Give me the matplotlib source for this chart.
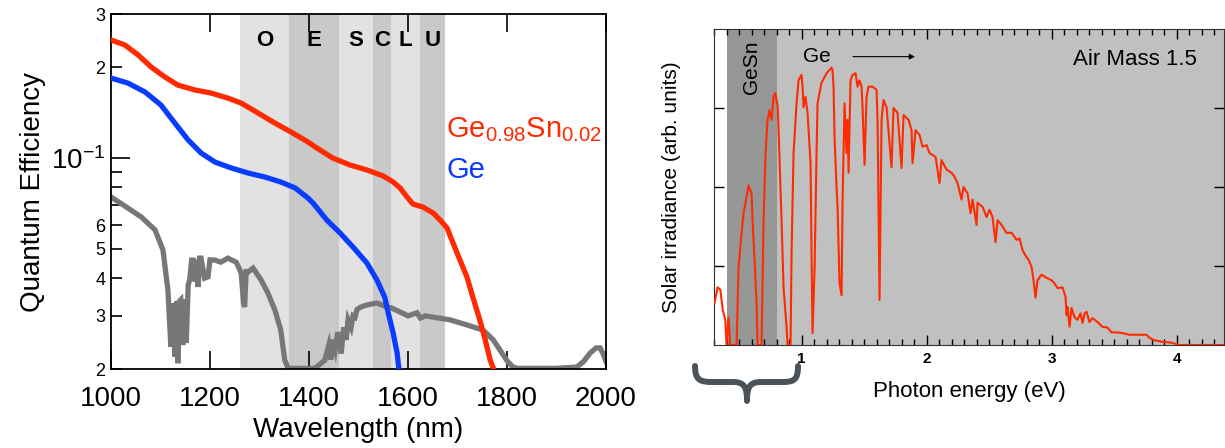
import matplotlib
matplotlib.use("Agg")
import matplotlib.pyplot as plt
from matplotlib.path import Path
from matplotlib.patches import PathPatch

plt.rcParams['font.family'] = ['Liberation Sans', 'DejaVu Sans']

# ---- left panel: quantum efficiency vs wavelength ----
bands = ['O', 'E', 'S', 'C', 'L', 'U']
band_edges = [1260, 1360, 1460, 1530, 1565, 1625, 1675]
band_colors = ['#e2e2e2', '#c9c9c9', '#e2e2e2', '#c9c9c9', '#e2e2e2', '#c9c9c9']

gesn_wl = [1000, 1028, 1055, 1081, 1109, 1135, 1170, 1202, 1236, 1263, 1297, 1331, 1364,
           1398, 1416, 1448, 1483, 1517, 1550, 1570, 1584, 1598, 1610, 1630, 1651, 1665,
           1679, 1691, 1705, 1719, 1731, 1745, 1756, 1766, 1774]
gesn_qe = [0.2461, 0.2369, 0.2194, 0.2003, 0.1855, 0.1745, 0.1680, 0.1642, 0.1580, 0.1521,
           0.1410, 0.1306, 0.1219, 0.1130, 0.1079, 0.1000, 0.0948, 0.0913, 0.0872, 0.0833,
           0.0796, 0.0743, 0.0704, 0.0688, 0.0657, 0.0623, 0.0586, 0.0523, 0.0459, 0.0404,
           0.0346, 0.0291, 0.0250, 0.0214, 0.0198]

ge_wl = [1000, 1034, 1069, 1101, 1129, 1156, 1182, 1210, 1243, 1277, 1311, 1343, 1372,
         1398, 1408, 1436, 1463, 1489, 1517, 1537, 1553, 1560, 1570, 1578, 1582]
ge_qe = [0.1841, 0.1772, 0.1654, 0.1498, 0.1306, 0.1147, 0.1039, 0.0970, 0.0927, 0.0892,
         0.0865, 0.0833, 0.0796, 0.0737, 0.0710, 0.0623, 0.0564, 0.0507, 0.0449, 0.0395,
         0.0346, 0.0307, 0.0263, 0.0226, 0.0198]

atm_wl = [1000, 1034, 1061, 1089, 1105, 1115, 1121, 1125, 1129, 1133, 1135, 1138, 1141,
          1145, 1149, 1152, 1156, 1159, 1163, 1166, 1170, 1173, 1176, 1179, 1182, 1189,
          1196, 1200, 1210, 1222, 1236, 1253, 1263, 1268, 1270, 1273, 1277, 1287, 1303,
          1317, 1331, 1343, 1351, 1358, 1412, 1432, 1440, 1444, 1448, 1453, 1458, 1465,
          1470, 1475, 1479, 1485, 1489, 1493, 1497, 1505, 1517, 1537, 1557, 1566, 1584,
          1600, 1618, 1625, 1635, 1651, 1685, 1719, 1752, 1772, 1786, 1800, 1812, 1822,
          1900, 1941, 1955, 1968, 1980, 1988, 1994, 2000]
atm_t = [0.0743, 0.0683, 0.0638, 0.0578, 0.0496, 0.0365, 0.0237, 0.0330, 0.0220, 0.0335,
         0.0209, 0.0335, 0.0339, 0.0240, 0.0340, 0.0244, 0.0380, 0.0395, 0.0459, 0.0459,
         0.0390, 0.0460, 0.0374, 0.0466, 0.0466, 0.0400, 0.0404, 0.0460, 0.0459, 0.0452,
         0.0466, 0.0452, 0.0416, 0.0330, 0.0321, 0.0420, 0.0419, 0.0432, 0.0395, 0.0357,
         0.0314, 0.0269, 0.0214, 0.0201, 0.0201, 0.0214, 0.0240, 0.0215, 0.0250, 0.0232,
         0.0265, 0.0225, 0.0275, 0.0250, 0.0291, 0.0275, 0.0300, 0.0297, 0.0315, 0.0321,
         0.0326, 0.0331, 0.0321, 0.0319, 0.0309, 0.0300, 0.0307, 0.0295, 0.0300, 0.0297,
         0.0291, 0.0280, 0.0269, 0.0250, 0.0231, 0.0213, 0.0203, 0.0201, 0.0201, 0.0203,
         0.0212, 0.0226, 0.0235, 0.0235, 0.0225, 0.0212]

qe_minor_ticks = [0.02, 0.03, 0.04, 0.05, 0.06, 0.07, 0.08, 0.09, 0.2, 0.3]
qe_minor_labels = ['2', '3', '4', '5', '6', '', '', '', '2', '3']

# ---- right panel: AM1.5 solar spectrum vs photon energy ----
am_ev = [0.304, 0.328, 0.35, 0.37, 0.39, 0.40, 0.416, 0.43, 0.48, 0.496, 0.52, 0.536, 0.56,
         0.576, 0.60, 0.608, 0.624, 0.64, 0.648, 0.68, 0.696, 0.712, 0.728, 0.744, 0.76,
         0.776, 0.79, 0.81, 0.824, 0.84, 0.856, 0.88, 0.888, 0.912, 0.92, 0.936, 0.96,
         0.976, 1.0, 1.008, 1.016, 1.032, 1.048, 1.072, 1.08, 1.088, 1.104, 1.12, 1.128,
         1.16, 1.20, 1.24, 1.248, 1.256, 1.264, 1.28, 1.288, 1.304, 1.32, 1.328, 1.344,
         1.36, 1.368, 1.376, 1.392, 1.408, 1.432, 1.448, 1.464, 1.48, 1.488, 1.504, 1.52,
         1.536, 1.568, 1.60, 1.608, 1.624, 1.64, 1.656, 1.68, 1.704, 1.72, 1.736, 1.768,
         1.80, 1.816, 1.856, 1.88, 1.888, 1.912, 1.944, 1.968, 2.0, 2.024, 2.072, 2.104,
         2.12, 2.16, 2.2, 2.224, 2.248, 2.28, 2.296, 2.328, 2.352, 2.368, 2.40, 2.408,
         2.448, 2.48, 2.504, 2.528, 2.552, 2.568, 2.60, 2.64, 2.68, 2.72, 2.744, 2.768,
         2.80, 2.816, 2.84, 2.856, 2.872, 2.888, 2.92, 2.96, 3.0, 3.024, 3.048, 3.088,
         3.112, 3.12, 3.128, 3.144, 3.16, 3.184, 3.208, 3.232, 3.248, 3.264, 3.28, 3.304,
         3.328, 3.368, 3.408, 3.448, 3.48, 3.52, 3.568, 3.624, 3.688, 3.76, 3.784, 3.824,
         3.888, 3.96, 4.024, 4.38]
am_irr = [0.53, 0.73, 0.70, 0.44, 0.32, 0.0, 0.35, 0.0, 0.0, 0.99, 1.41, 1.67, 1.87,
          2.02, 1.92, 1.58, 1.08, 0.53, 0.0, 0.0, 1.58, 2.43, 2.85, 2.97, 2.85,
          3.14, 3.19, 3.01, 2.34, 1.58, 0.73, 0.23, 0.0, 0.0, 1.16, 2.43, 3.06,
          3.35, 3.42, 3.27, 3.01, 3.14, 2.94, 2.30, 1.16, 0.15, 0.95, 2.43, 3.06,
          3.32, 3.44, 3.51, 3.48, 3.27, 2.63, 2.0, 1.75, 0.78, 0.63, 1.8, 3.06,
          2.43, 2.85, 2.18, 3.35, 3.42, 3.44, 3.27, 3.35, 3.27, 3.01, 2.28, 3.14,
          3.27, 3.27, 3.23, 2.85, 0.57, 2.85, 3.1, 3.01, 2.56, 2.25, 3.0, 2.94,
          2.24, 2.91, 2.85, 2.72, 2.3, 2.72, 2.66, 2.51, 2.53, 2.43, 2.38, 2.05,
          2.34, 2.22, 2.18, 2.13, 2.05, 1.84, 2.0, 1.92, 1.67, 1.84, 1.52, 1.8,
          1.75, 1.62, 1.71, 1.62, 1.3, 1.58, 1.52, 1.42, 1.42, 1.33, 1.35, 1.2,
          1.11, 1.08, 0.99, 0.82, 0.6, 0.82, 0.89, 0.85, 0.82, 0.78, 0.72, 0.73,
          0.61, 0.38, 0.48, 0.23, 0.47, 0.35, 0.32, 0.40, 0.28, 0.40, 0.42, 0.29,
          0.34, 0.29, 0.23, 0.22, 0.16, 0.16, 0.15, 0.13, 0.13, 0.13, 0.09, 0.06,
          0.04, 0.03, 0.0, 0.0]

fig = plt.figure(figsize=(12.25, 4.48), dpi=100)

# left panel
ax = fig.add_axes([0.0906, 0.1763, 0.4041, 0.7924])
for i, b in enumerate(bands):
    ax.axvspan(band_edges[i], band_edges[i + 1], color=band_colors[i], lw=0, zorder=0)
    ax.text((band_edges[i] + band_edges[i + 1]) / 2, 0.246, b, ha='center', va='center',
            fontsize=16, fontweight='bold')

ax.plot(atm_wl, atm_t, color='#777777', lw=3.8, solid_joinstyle='miter', zorder=2)
ax.plot(gesn_wl, gesn_qe, color='#ff2a00', lw=3.8, zorder=3)
ax.plot(ge_wl, ge_qe, color='#0a3cff', lw=3.8, zorder=3)

ax.set_yscale('log')
ax.set_xlim(1000, 2000)
ax.set_ylim(0.02, 0.3)
ax.set_xticks([1000, 1200, 1400, 1600, 1800, 2000])
ax.set_xticklabels(['1000', '1200', '1400', '1600', '1800', '2000'], fontsize=20)
ax.set_yticks([0.1])
ax.set_yticklabels(['$\\mathregular{10^{-1}}$'], fontsize=20)
ax.set_yticks(qe_minor_ticks, minor=True)
ax.set_yticklabels(qe_minor_labels, minor=True, fontsize=13)
ax.tick_params(axis='x', which='both', direction='in', top=True, length=13, width=1.2, pad=12)
ax.tick_params(axis='y', which='major', direction='in', length=14, width=1.2, pad=4)
ax.tick_params(axis='y', which='minor', direction='in', length=8, width=1.2, pad=4)
for s in ax.spines.values():
    s.set_linewidth(1.3)
ax.set_xlabel('Wavelength (nm)', fontsize=20, labelpad=4)
ax.set_ylabel('Quantum Efficiency', fontsize=20, labelpad=4)

ax.text(1677, 0.124, '$\\mathregular{Ge_{0.98}Sn_{0.02}}$', color='#ff2a00', fontsize=21,
        ha='left', va='center')
ax.text(1677, 0.0912, 'Ge', color='#0a3cff', fontsize=21, ha='left', va='center')

# right panel
ax2 = fig.add_axes([0.5829, 0.2299, 0.4163, 0.7054])
ax2.axvspan(0.4, 0.8, color='#969696', lw=0, zorder=0)
ax2.axvspan(0.8, 4.38, color='#c0c0c0', lw=0, zorder=0)
ax2.plot(am_ev, am_irr, color='#ff2a00', lw=1.5, zorder=3)
ax2.set_xlim(0.3, 4.38)
ax2.set_ylim(0, 4)
ax2.set_xticks([1, 2, 3, 4])
ax2.set_xticklabels(['1', '2', '3', '4'], fontsize=11, fontweight='bold')
ax2.set_xticks([i / 10 for i in range(3, 44)], minor=True)
ax2.set_yticks([1, 2, 3])
ax2.set_yticklabels([])
ax2.tick_params(axis='x', which='major', direction='in', top=True, length=7, width=1, pad=5)
ax2.tick_params(axis='x', which='minor', direction='in', top=True, length=4, width=1)
ax2.tick_params(axis='y', which='major', direction='in', right=True, length=7, width=1)
for s in ax2.spines.values():
    s.set_color('#333333')
ax2.set_xlabel('Photon energy (eV)', fontsize=16, labelpad=11)
ax2.set_ylabel('Solar irradiance (arb. units)', fontsize=15, labelpad=20)

ax2.text(0.6, 3.52, 'GeSn', rotation=90, fontsize=15, ha='center', va='center')
ax2.text(1.12, 3.65, 'Ge', fontsize=15, ha='center', va='center')
ax2.annotate('', xy=(1.93, 3.65), xytext=(1.39, 3.65),
             arrowprops=dict(arrowstyle='-|>', color='black', lw=0.8, mutation_scale=8))
ax2.text(3.67, 3.61, 'Air Mass 1.5', fontsize=16, ha='center', va='center')

# curly brace under the low-energy part of the right panel
W, H = 1225.0, 448.0
brace_px = [(695, 366), (695, 380), (700, 382), (712, 382), (733, 382),
            (745, 382), (747, 388), (747, 401),
            (747, 388), (749, 382), (761, 382), (782, 382),
            (794, 382), (798, 380), (798, 366)]
codes = [Path.MOVETO, Path.CURVE4, Path.CURVE4, Path.CURVE4, Path.LINETO,
         Path.CURVE4, Path.CURVE4, Path.CURVE4,
         Path.CURVE4, Path.CURVE4, Path.CURVE4, Path.LINETO,
         Path.CURVE4, Path.CURVE4, Path.CURVE4]
verts = [(x / W, 1 - y / H) for x, y in brace_px]
fig.patches.append(PathPatch(Path(verts, codes), transform=fig.transFigure,
                             fill=False, edgecolor='#4b5359', lw=4.3,
                             capstyle='round', joinstyle='round'))

fig.savefig('out.png', dpi=100)
